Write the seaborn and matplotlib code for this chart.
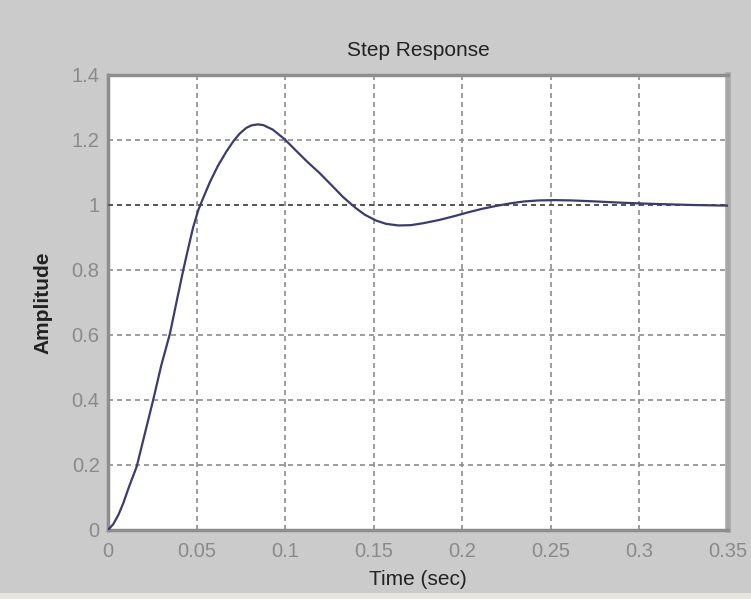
import matplotlib
matplotlib.use("Agg")
import matplotlib.pyplot as plt
import seaborn as sns
import pandas as pd
from matplotlib.patches import Rectangle

# Data
time_sec = [0.0, 0.003, 0.006, 0.0086, 0.012, 0.0162, 0.0205, 0.0255, 0.030,
            0.035, 0.039, 0.0425, 0.045, 0.048, 0.051, 0.054, 0.0575, 0.062,
            0.0669, 0.071, 0.0744, 0.078, 0.081, 0.0845, 0.0876, 0.093,
            0.0998, 0.106, 0.1125, 0.1195, 0.126, 0.1326, 0.14, 0.145,
            0.1514, 0.157, 0.164, 0.171, 0.178, 0.187, 0.195, 0.203, 0.211,
            0.219, 0.227, 0.235, 0.243, 0.252, 0.262, 0.275, 0.29, 0.31,
            0.33, 0.35]
amplitude = [0.0, 0.018, 0.048, 0.082, 0.135, 0.195, 0.29, 0.40, 0.505,
             0.605, 0.71, 0.80, 0.86, 0.93, 0.985, 1.025, 1.07, 1.12,
             1.165, 1.198, 1.22, 1.237, 1.245, 1.248, 1.246, 1.232,
             1.202, 1.168, 1.133, 1.098, 1.062, 1.025, 0.99, 0.97,
             0.952, 0.942, 0.937, 0.938, 0.944, 0.954, 0.965, 0.977, 0.988,
             0.997, 1.005, 1.011, 1.014, 1.015, 1.014, 1.011, 1.007, 1.003,
             1.0, 0.998]
x_ticks = [0, 0.05, 0.1, 0.15, 0.2, 0.25, 0.3, 0.35]
x_tick_labels = ["0", "0.05", "0.1", "0.15", "0.2", "0.25", "0.3", "0.35"]
y_ticks = [0, 0.2, 0.4, 0.6, 0.8, 1.0, 1.2, 1.4]
y_tick_labels = ["0", "0.2", "0.4", "0.6", "0.8", "1", "1.2", "1.4"]
title = "Step Response"
x_label = "Time (sec)"
y_label = "Amplitude"

df = pd.DataFrame({"t": time_sec, "y": amplitude})

sns.set_style("white")
plt.rcParams["font.family"] = ["Liberation Sans", "DejaVu Sans"]

fig = plt.figure(figsize=(7.51, 5.99), dpi=100)
fig.patch.set_facecolor("#cbcbcb")
fig.patches.append(Rectangle((0, 0), 1, 0.01, transform=fig.transFigure,
                             facecolor="#e6e6dc", edgecolor="none", zorder=0))
ax = fig.add_axes([0.1438, 0.1152, 0.8256, 0.7596])
ax.set_facecolor("white")

sns.lineplot(data=df, x="t", y="y", ax=ax, color="#3b3b6e", linewidth=1.6,
             estimator=None, sort=False, zorder=4)

ax.set_xlim(0, 0.35)
ax.set_ylim(0, 1.4)
ax.set_xticks(x_ticks)
ax.set_xticklabels(x_tick_labels)
ax.set_yticks(y_ticks)
ax.set_yticklabels(y_tick_labels)
ax.tick_params(axis="both", length=0, labelsize=14.5, labelcolor="#8a8a8a", pad=6)
ax.tick_params(axis="x", pad=9)

ax.grid(True, color="#8c8c8c", linestyle=(0, (3, 2.4)), linewidth=1.2)
ax.axhline(1.0, color="#4a4a4a", linestyle=(0, (3, 2.4)), linewidth=1.2, zorder=3)

for side, sp in ax.spines.items():
    sp.set_visible(True)
    sp.set_color("#8e8e8e")
    sp.set_linewidth(2.5)
ax.spines["right"].set_color("#a8a8a8")
ax.spines["right"].set_linewidth(4)

ax.set_title(title, fontsize=15, color="#222222", pad=14)
ax.set_xlabel(x_label, fontsize=15, color="#222222", labelpad=6)
ax.set_ylabel(y_label, fontsize=15, color="#222222", fontweight="bold", labelpad=14)

fig.savefig("out.png", dpi=100, facecolor=fig.get_facecolor())
